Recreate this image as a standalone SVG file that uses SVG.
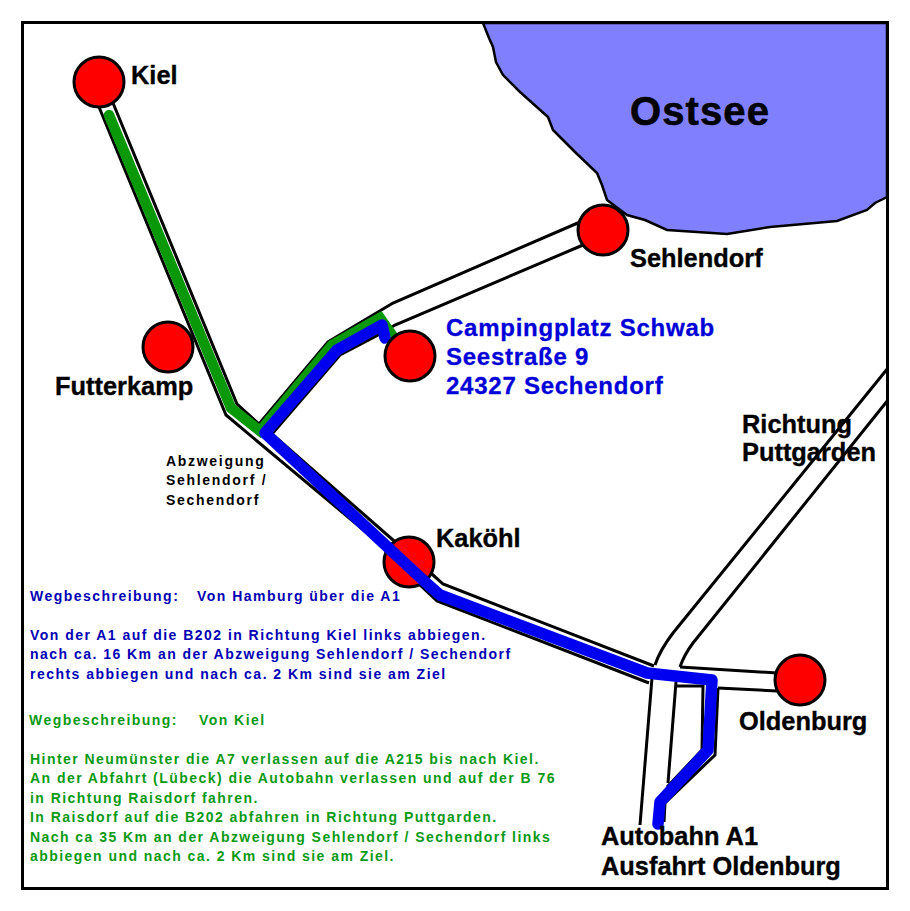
<svg xmlns="http://www.w3.org/2000/svg" width="910" height="911" viewBox="0 0 910 911">
<style>
text{font-family:"Liberation Sans",Arial,sans-serif;font-weight:bold}
.road{fill:none;stroke:#000;stroke-width:3;stroke-linejoin:miter}
.city{fill:#f00;stroke:#000;stroke-width:3}
.lbl{font-size:25.4px;fill:#000;stroke:#000;stroke-width:.35}
.addr{font-size:24px;fill:#0000d8;stroke:#0000d8;stroke-width:.3;letter-spacing:.75px}
.small{font-size:14px;fill:#000;letter-spacing:1.7px}
.b{font-size:14px;fill:#0000b4;letter-spacing:1.47px}
.g{font-size:14px;fill:#0a9a14;letter-spacing:1.45px}
</style>
<rect width="910" height="911" fill="#fff"/>
<path id="ostsee" d="M483 23L489 38L493 47L496 62L503 75L520 92L548 117L553 130L575 152L597 173L602 185L607 200L627 215L645 220L667 230L727 234L770 227L837 221L867 210L875 203L887 197V23Z" fill="#8080ff" stroke="#000" stroke-width="2.5"/>
<g id="connectors">
<path class="road" d="M99 107L226 415L385 548L420 585L437 601L649 683"/>
<path class="road" d="M113 103L237 404L259 424L328 342L393 303L580 222"/>
<path class="road" d="M272 434L340 355L382 333L395 325L583 245"/>
<path class="road" d="M272 434L393 540L433 575L443 584L654 666"/>
<path class="road" d="M655 665Q660 650 673 633L888 368"/>
<path class="road" d="M680 667Q684 655 693 643L888 400"/>
<path class="road" d="M652 678L640 825"/>
<path class="road" d="M676 682L668 783"/>
<path class="road" d="M676 686H703L702 750L667 787"/>
<path class="road" d="M680 667L777 673"/>
<path class="road" d="M718 688L777 691"/>
<path class="road" d="M718 688L715 755L665 803L664 822"/>
<path id="route-green" d="M109 115L231 408L260 431L332 345L380 318L392 335" fill="none" stroke="#089808" stroke-width="10.5" stroke-linecap="round"/>
</g>
<g id="city-kaköhl"><circle class="city" cx="409" cy="562" r="25"/></g>
<path id="route-blue" d="M385 338L382 325L337 350L265 433L423 580L440 595L647 673L712 680L708 750L660 802L658 824" fill="none" stroke="#0000f0" stroke-width="11.5" stroke-linejoin="round" stroke-linecap="round"/>
<g id="city-kiel"><circle class="city" cx="99" cy="82" r="25"/><text class="lbl" x="131" y="84">Kiel</text></g>
<g id="city-futterkamp"><circle class="city" cx="168" cy="347" r="25"/><text class="lbl" x="55" y="395">Futterkamp</text></g>
<g id="city-sehlendorf"><circle class="city" cx="603" cy="230" r="25"/><text class="lbl" x="630" y="267">Sehlendorf</text></g>
<g id="campingplatz"><circle class="city" cx="410" cy="356" r="25"/>
<text class="addr" x="446" y="336">Campingplatz Schwab</text>
<text class="addr" x="446" y="365">Seestraße 9</text>
<text class="addr" x="446" y="394">24327 Sechendorf</text></g>
<text class="lbl" x="436" y="547">Kaköhl</text>
<g id="city-oldenburg"><circle class="city" cx="800" cy="680" r="25"/><text class="lbl" x="739" y="730">Oldenburg</text></g>
<text x="630" y="125" font-size="40" letter-spacing="1.1" fill="#000" stroke="#000" stroke-width=".6">Ostsee</text>
<text class="lbl" x="742" y="433">Richtung</text>
<text class="lbl" x="742" y="461">Puttgarden</text>
<text class="lbl" x="601" y="845">Autobahn A1</text>
<text class="lbl" x="601" y="875">Ausfahrt Oldenburg</text>
<text class="small" x="166" y="466">Abzweigung</text>
<text class="small" x="166" y="485">Sehlendorf /</text>
<text class="small" x="166" y="505">Sechendorf</text>
<g id="text-hamburg">
<text class="b" x="30" y="601">Wegbeschreibung:<tspan x="197">Von Hamburg über die A1</tspan></text>
<text class="b" x="30" y="640">Von der A1 auf die B202 in Richtung Kiel links abbiegen.</text>
<text class="b" x="30" y="659">nach ca. 16 Km an der Abzweigung Sehlendorf / Sechendorf</text>
<text class="b" x="30" y="679">rechts abbiegen und nach ca. 2 Km sind sie am Ziel</text>
</g>
<g id="text-kiel">
<text class="g" x="29" y="725">Wegbeschreibung:<tspan x="199">Von Kiel</tspan></text>
<text class="g" x="30" y="764">Hinter Neumünster die A7 verlassen auf die A215 bis nach Kiel.</text>
<text class="g" x="30" y="783">An der Abfahrt (Lübeck) die Autobahn verlassen und auf der B 76</text>
<text class="g" x="30" y="803">in Richtung Raisdorf fahren.</text>
<text class="g" x="30" y="822">In Raisdorf auf die B202 abfahren in Richtung Puttgarden.</text>
<text class="g" x="30" y="842">Nach ca 35 Km an der Abzweigung Sehlendorf / Sechendorf links</text>
<text class="g" x="30" y="861">abbiegen und nach ca. 2 Km sind sie am Ziel.</text>
</g>
<rect id="frame" x="22.5" y="22.5" width="865" height="866" fill="none" stroke="#000" stroke-width="3"/>
</svg>
